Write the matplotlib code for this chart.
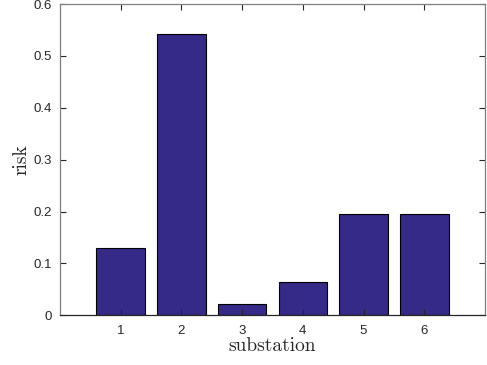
import numpy as np
import matplotlib.pyplot as plt

substations = [1, 2, 3, 4, 5, 6]
risk = [0.13, 0.543, 0.022, 0.065, 0.195, 0.195]

bar_color = '#352A87'
axis_color = '#7f7f7f'

fig = plt.figure(figsize=(4.87, 3.65), dpi=100)
ax = fig.add_axes([0.1232, 0.136, 0.8727, 0.853])

ax.bar(substations, risk, width=0.8, color=bar_color, edgecolor='black', linewidth=0.8)

ax.set_xlim(0, 7)
ax.set_ylim(0, 0.6)
ax.set_xticks(substations)
ax.set_yticks(np.arange(0, 0.61, 0.1))
ax.set_yticklabels(['0', '0.1', '0.2', '0.3', '0.4', '0.5', '0.6'])

for s in ax.spines.values():
    s.set_color(axis_color)
    s.set_linewidth(0.9)
ax.spines['bottom'].set_color('#262626')

ax.tick_params(direction='in', length=4, width=0.8, color='#262626',
               top=True, right=True, labelsize=9.5, labelcolor='#262626')
ax.tick_params(axis='x', pad=7)
ax.tick_params(axis='y', pad=6)
for lab in ax.get_xticklabels() + ax.get_yticklabels():
    lab.set_family('Liberation Sans')

ax.set_xlabel('substation', family='cmr10', fontsize=14, color='#262626', labelpad=0)
ax.set_ylabel('risk', family='cmr10', fontsize=14, color='#262626', labelpad=2)

fig.savefig('out.png', dpi=100)
